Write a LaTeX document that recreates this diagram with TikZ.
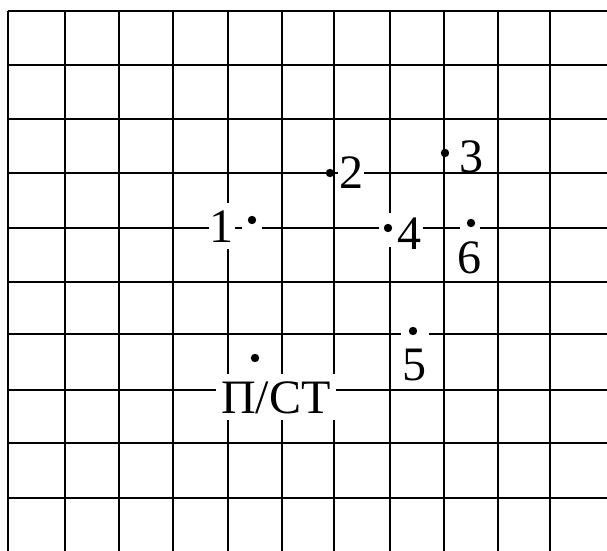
\documentclass[tikz,border=0pt]{standalone}
\usepackage{fontspec}
\setmainfont{Liberation Serif}

\tikzset{
  gridline/.style={line width=1.4pt},
  dot/.style={circle, fill=black, inner sep=0pt, minimum size=4.2pt},
  halo/.style={fill=white, inner sep=0pt, minimum width=10pt, minimum height=17pt},
  num/.style={font=\fontsize{24}{28}\selectfont, text height=16.3pt, text depth=0pt,
    inner xsep=0.5pt, inner ysep=3.4pt},
  numbox/.style={num, fill=white}
}

\begin{document}
\begin{tikzpicture}[x=0.5pt, y=-0.5pt]
          \useasboundingbox (0,0) rectangle (607,551);
          % grid
          \foreach \gx in {8,65,119,173,228,282,334,390,444,498,550}
            \draw[gridline] (\gx,11) -- (\gx,551);
          \foreach \gy in {11,65,119,173,228,282,334,390,443,498}
            \draw[gridline] (8,\gy) -- (607,\gy);
          % white gaps round some points
          \node[halo] (h1) at (252,222) {};
          \node[halo] (h4) at (389,230) {};
          \node[halo] (h6) at (470,225) {};
          \node[halo, minimum width=14pt] (h5) at (415,333) {};
          % points
          \node[dot] (p1) at (252,220) {};
          \node[dot] (p2) at (330,173) {};
          \node[dot] (p3) at (445,153) {};
          \node[dot] (p4) at (388,228) {};
          \node[dot] (p5) at (413,331) {};
          \node[dot] (p6) at (471,223) {};
          \node[dot] (pst) at (255,358) {};
          % labels
          \node[numbox] (l1) at (222,226) {1};
          \node[numbox] (l2) at (351,172) {2};
          \node[num] (l3) at (471,156) {3};
          \node[numbox] (l4) at (410,233) {4};
          \node[num] (l5) at (414,364) {5};
          \node[num] (l6) at (470,257) {6};
          \node[numbox, inner xsep=2.5pt] (lst) at (276,397) {П/СТ};
        \end{tikzpicture}
\end{document}
